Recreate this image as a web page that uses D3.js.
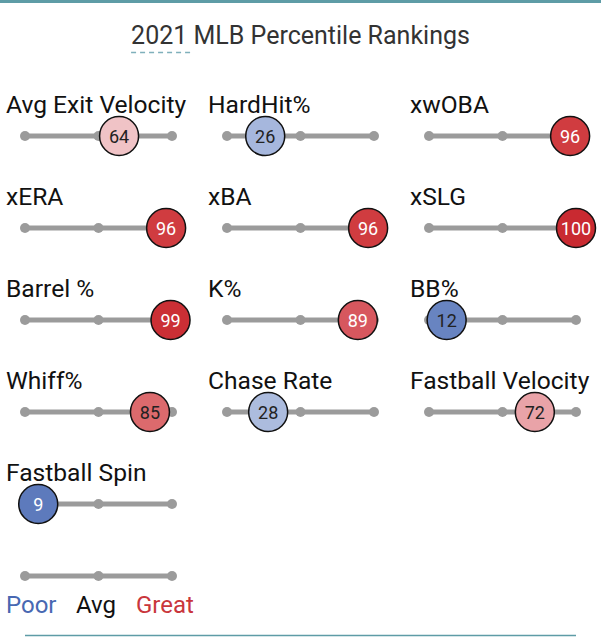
<!DOCTYPE html>
<html>
<head>
<meta charset="utf-8">
<script src="https://cdn.jsdelivr.net/npm/d3@7"></script>
<style>
  html, body { margin: 0; padding: 0; background: #fff; }
  svg { display: block; font-family: Roboto, "Noto Sans", sans-serif; }
</style>
</head>
<body>
<svg id="chart" width="601" height="637"></svg>
<script>
// ---- data ----
const titleText = "2021 MLB Percentile Rankings";
const metrics = ["Avg Exit Velocity", "HardHit%", "xwOBA",
                 "xERA", "xBA", "xSLG",
                 "Barrel %", "K%", "BB%",
                 "Whiff%", "Chase Rate", "Fastball Velocity",
                 "Fastball Spin"];
const percentiles = [64, 26, 96,
                     96, 96, 100,
                     99, 89, 12,
                     85, 28, 72,
                     9];
const trackTicks = [0, 50, 100];
const legendLabels = ["Poor", "Avg", "Great"];

// ---- layout ----
const W = 601, H = 637;
const svg = d3.select("#chart");
const nCols = 3;
const colScale = d3.scaleLinear().domain([0, 1]).range([25, 227]);   // track start per column
const rowScale = d3.scaleLinear().domain([0, 1]).range([136, 228]);  // track y per row
const x = d3.scaleLinear().domain([0, 100]).range([0, 147]);
const color = d3.scaleLinear()
  .domain([0, 10, 25, 50, 64, 72, 85, 90, 96, 100])
  .range(["#4868b2", "#5f7cbd", "#a3b5dc", "#eeeeee", "#f0c3c6", "#e9a3a8",
          "#dc6a6d", "#d6525a", "#d03c40", "#c92a31"]);
const teal = "#5e9ca6";

// top border
svg.append("rect").attr("x", 0).attr("y", 0).attr("width", W).attr("height", 3).attr("fill", teal);

// title
const title = svg.append("text")
  .attr("x", W / 2).attr("y", 44)
  .attr("text-anchor", "middle")
  .attr("font-size", 25)
  .attr("fill", "#333")
  .text(titleText);
const tb = title.node().getBBox();
svg.append("line")
  .attr("x1", tb.x).attr("x2", tb.x + 61)
  .attr("y1", 52.5).attr("y2", 52.5)
  .attr("stroke", "#7fb0bb").attr("stroke-width", 1.5)
  .attr("stroke-dasharray", "5,4");

// panels
const items = metrics.map((m, i) => ({ name: m, value: percentiles[i], col: i % nCols, row: Math.floor(i / nCols) }));

const g = svg.selectAll("g.metric").data(items).join("g")
  .attr("class", "metric")
  .attr("transform", d => `translate(${colScale(d.col)},${rowScale(d.row)})`);

g.append("text")
  .attr("x", -19).attr("y", -23)
  .attr("font-size", 24.6)
  .attr("fill", "#111")
  .text(d => d.name);

function drawTrack(sel) {
  sel.append("line")
    .attr("x1", x(0)).attr("x2", x(100))
    .attr("stroke", "#9b9b9b").attr("stroke-width", 5);
  sel.selectAll("circle.tick").data(trackTicks).join("circle")
    .attr("class", "tick")
    .attr("cx", d => x(d)).attr("cy", 0).attr("r", 5)
    .attr("fill", "#9b9b9b");
}
g.each(function () { drawTrack(d3.select(this)); });

g.append("circle")
  .attr("cx", d => x(d.value)).attr("cy", 0).attr("r", 19.5)
  .attr("fill", d => color(d.value))
  .attr("stroke", "#111").attr("stroke-width", 1.5);

g.append("text")
  .attr("x", d => x(d.value)).attr("y", 6.5)
  .attr("text-anchor", "middle")
  .attr("font-size", 18)
  .attr("fill", d => Math.abs(d.value - 50) > 38 ? "#fff" : "#222")
  .text(d => d.value);

// legend
const lg = svg.append("g").attr("transform", `translate(${colScale(0)},576)`);
drawTrack(lg);
const legendColors = ["#4868b2", "#111", "#c9363c"];
const legendX = [-19, 51, 111];
lg.selectAll("text.leg").data(legendLabels).join("text")
  .attr("class", "leg")
  .attr("x", (d, i) => legendX[i]).attr("y", 37)
  .attr("font-size", 24)
  .attr("fill", (d, i) => legendColors[i])
  .text(d => d);

// bottom line
svg.append("line")
  .attr("x1", colScale(0)).attr("x2", colScale(2) + x(100))
  .attr("y1", 635.5).attr("y2", 635.5)
  .attr("stroke", teal).attr("stroke-width", 1.5);
</script>
</body>
</html>
